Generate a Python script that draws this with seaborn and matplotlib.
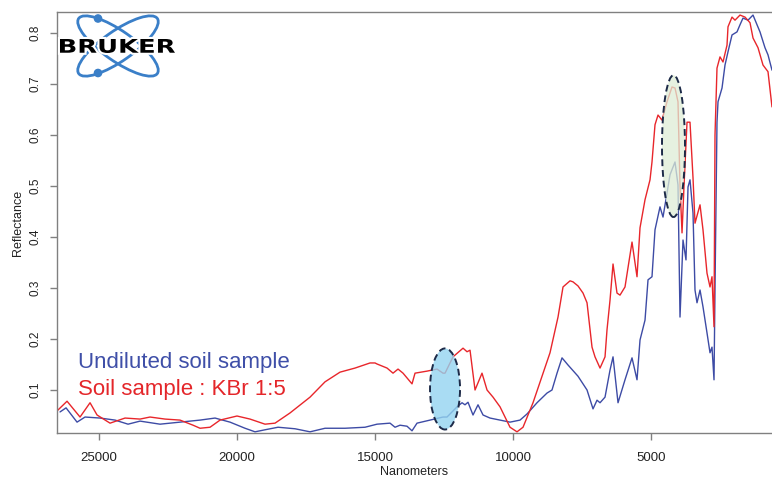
import numpy as np
import pandas as pd
import seaborn as sns
import matplotlib
matplotlib.use("Agg")
import matplotlib.pyplot as plt
from matplotlib.patches import Ellipse, PathPatch, Circle
from matplotlib.textpath import TextPath
from matplotlib.font_manager import FontProperties
from matplotlib.transforms import Affine2D
import matplotlib.patheffects as pe

# ---------------- data ----------------
kbr_nm = [26520, 26158, 25687, 25325, 25071, 24600, 24057, 23513, 23151, 22608,
          22064, 21593, 21339, 20977, 20615, 20000, 19528, 18985, 18622, 18079,
          17354, 16811, 16267, 15724, 15180, 14999, 14927, 14564, 14347, 14166,
          13985, 13659, 13550, 13115, 12753, 12536, 12463, 12173, 11811, 11666,
          11557, 11376, 11123, 10941, 10724, 10470, 10108, 9855, 9637, 9275,
          8659, 8369, 8188, 7934, 7826, 7645, 7463, 7318, 7137, 7029,
          6847, 6666, 6594, 6485, 6376, 6232, 6123, 5942, 5688, 5507,
          5398, 5217, 5036, 4964, 4855, 4746, 4601, 4420, 4239, 4130,
          4022, 3949, 3876, 3804, 3695, 3587, 3478, 3406, 3224, 3116,
          2971, 2862, 2790, 2717, 2681, 2609, 2500, 2391, 2246, 2210,
          2065, 1956, 1775, 1594, 1413, 1304, 1123, 942, 761, 616]
kbr_refl = [0.059, 0.078, 0.047, 0.075, 0.051, 0.035, 0.045, 0.043, 0.047, 0.043,
            0.041, 0.031, 0.025, 0.027, 0.041, 0.049, 0.043, 0.033, 0.035, 0.055,
            0.086, 0.116, 0.135, 0.143, 0.153, 0.153, 0.151, 0.143, 0.133, 0.141,
            0.133, 0.112, 0.133, 0.137, 0.141, 0.133, 0.133, 0.165, 0.182, 0.175,
            0.178, 0.100, 0.133, 0.100, 0.086, 0.067, 0.027, 0.018, 0.027, 0.075,
            0.173, 0.243, 0.302, 0.314, 0.312, 0.304, 0.290, 0.271, 0.184, 0.165,
            0.143, 0.165, 0.218, 0.276, 0.347, 0.290, 0.286, 0.302, 0.390, 0.322,
            0.418, 0.473, 0.512, 0.547, 0.620, 0.639, 0.629, 0.665, 0.694, 0.692,
            0.665, 0.500, 0.408, 0.500, 0.625, 0.625, 0.516, 0.427, 0.463, 0.414,
            0.329, 0.302, 0.322, 0.224, 0.600, 0.731, 0.753, 0.743, 0.776, 0.812,
            0.831, 0.825, 0.835, 0.831, 0.820, 0.790, 0.771, 0.737, 0.724, 0.655]

soil_nm = [26412, 26194, 25796, 25506, 24962, 24419, 23948, 23513, 22789, 22064,
           21339, 20796, 20253, 19709, 19347, 18985, 18514, 17898, 17354, 16811,
           16086, 15362, 14927, 14456, 14275, 14093, 13840, 13659, 13478, 13007,
           12536, 12391, 12028, 11847, 11739, 11630, 11449, 11268, 11086, 10833,
           10470, 10108, 9746, 9492, 9130, 8768, 8587, 8405, 8224, 8007,
           7645, 7318, 7101, 6956, 6847, 6666, 6485, 6376, 6195, 5942,
           5688, 5507, 5398, 5217, 5108, 4964, 4855, 4674, 4565, 4420,
           4311, 4130, 4022, 3949, 3840, 3732, 3659, 3587, 3478, 3406,
           3333, 3224, 3116, 2971, 2862, 2790, 2717, 2681, 2609, 2572,
           2427, 2319, 2210, 2065, 1884, 1775, 1667, 1485, 1304, 1159,
           1051, 870, 761, 616]
soil_refl = [0.057, 0.065, 0.037, 0.047, 0.045, 0.041, 0.033, 0.039, 0.033, 0.037,
             0.041, 0.045, 0.037, 0.025, 0.018, 0.022, 0.027, 0.024, 0.018, 0.025,
             0.025, 0.027, 0.033, 0.035, 0.027, 0.031, 0.029, 0.020, 0.035, 0.041,
             0.047, 0.047, 0.067, 0.075, 0.071, 0.076, 0.051, 0.071, 0.051, 0.045,
             0.041, 0.037, 0.041, 0.053, 0.075, 0.094, 0.100, 0.133, 0.163, 0.149,
             0.127, 0.100, 0.063, 0.080, 0.075, 0.086, 0.139, 0.165, 0.075, 0.120,
             0.163, 0.120, 0.198, 0.237, 0.316, 0.322, 0.414, 0.459, 0.439, 0.486,
             0.522, 0.547, 0.502, 0.243, 0.394, 0.355, 0.498, 0.512, 0.447, 0.296,
             0.271, 0.296, 0.263, 0.212, 0.173, 0.184, 0.120, 0.300, 0.625, 0.665,
             0.692, 0.737, 0.763, 0.796, 0.802, 0.816, 0.829, 0.825, 0.835, 0.816,
             0.802, 0.771, 0.757, 0.727]

series_names = ["Undiluted soil sample", "Soil sample : KBr 1:5"]
x_ticks = [25000, 20000, 15000, 10000, 5000]
y_ticks = [0.1, 0.2, 0.3, 0.4, 0.5, 0.6, 0.7, 0.8]

# highlighted bands: (center nm, center reflectance, width nm, height)
band_centers_nm = [12463, 4185]
band_centers_refl = [0.102, 0.578]
band_widths_nm = [1087, 833]
band_heights = [0.159, 0.278]

# ---------------- style ----------------
sns.set_theme(style="ticks")
plt.rcParams['font.family'] = ['Liberation Sans', 'DejaVu Sans']

BLUE = "#3d4ba5"
RED = "#e8262b"
GRAY = "#808080"

W, H = 772, 482
fig = plt.figure(figsize=(W / 100, H / 100), dpi=100)
ax = fig.add_axes([57 / W, 1 - 433 / H, (772 - 57) / W, (433 - 12) / H])

df = pd.concat([
    pd.DataFrame({"nm": soil_nm, "refl": soil_refl, "sample": series_names[0]}),
    pd.DataFrame({"nm": kbr_nm, "refl": kbr_refl, "sample": series_names[1]}),
])
sns.lineplot(data=df, x="nm", y="refl", hue="sample",
             palette={series_names[0]: BLUE, series_names[1]: RED},
             linewidth=1.0, legend=False, ax=ax, zorder=2)

ax.set_xlim(26522, 616)
ax.set_ylim(0.0157, 0.841)
ax.set_xticks(x_ticks)
ax.set_xticklabels([str(t) for t in x_ticks])
ax.set_yticks(y_ticks)
ax.set_yticklabels([f"{t:.1f}" for t in y_ticks])

for s in ["left", "bottom", "top"]:
    ax.spines[s].set_color(GRAY)
    ax.spines[s].set_linewidth(1.0)
ax.spines["right"].set_visible(False)
ax.tick_params(axis="both", colors=GRAY, length=5, width=1.0, labelcolor="#222222")
ax.tick_params(axis="x", labelsize=9.5, pad=9)
ax.tick_params(axis="y", labelsize=8.5, pad=6)
for lab in ax.get_yticklabels():
    lab.set_rotation(90)
    lab.set_va("center")
ax.set_xlabel("Nanometers", fontsize=9, color="#222222", labelpad=1)
ax.set_ylabel("Reflectance", fontsize=9, color="#222222", labelpad=4)

face_cols = [(0.58, 0.83, 0.94, 0.8), (0.87, 0.93, 0.84, 0.75)]
for cx, cy, w, h, fc in zip(band_centers_nm, band_centers_refl, band_widths_nm, band_heights, face_cols):
    e = Ellipse((cx, cy), width=w, height=h, facecolor=fc, edgecolor="#1d2a48",
                linestyle=(0, (3.5, 2)), linewidth=1.4, zorder=3)
    ax.add_patch(e)

# legend text
fig.text(78 / W, 1 - 368 / H, series_names[0], color="#3f4fa8", fontsize=16, va="baseline", ha="left")
fig.text(78 / W, 1 - 395 / H, series_names[1], color="#e4262a", fontsize=16, va="baseline", ha="left")

# ---------------- logo (pixel overlay) ----------------
ov = fig.add_axes([0, 0, 1, 1])
ov.set_xlim(0, W)
ov.set_ylim(H, 0)
ov.axis("off")
ov.patch.set_alpha(0)
LOGO_BLUE = "#3a7fc8"
for ang in (35, -35):
    ov.add_patch(Ellipse((118, 46), width=96, height=30, angle=ang, fill=False,
                         edgecolor=LOGO_BLUE, linewidth=2.0))
ov.add_patch(Circle((98, 18.5), 3.6, color=LOGO_BLUE))
ov.add_patch(Circle((98, 73), 3.6, color=LOGO_BLUE))
tp = TextPath((0, 0), "BRUKER", size=10, prop=FontProperties(family="DejaVu Sans", weight="bold"))
ext = tp.get_extents()
sx = (175 - 60) / ext.width
sy = (53 - 39) / ext.height
tr = Affine2D().translate(-ext.x0, -ext.y0).scale(sx, -sy).translate(60, 53)
pp = PathPatch(tr.transform_path(tp), facecolor="black", edgecolor="none")
pp.set_path_effects([pe.withStroke(linewidth=3, foreground="white")])
ov.add_patch(pp)

fig.savefig("out.png", dpi=100)
